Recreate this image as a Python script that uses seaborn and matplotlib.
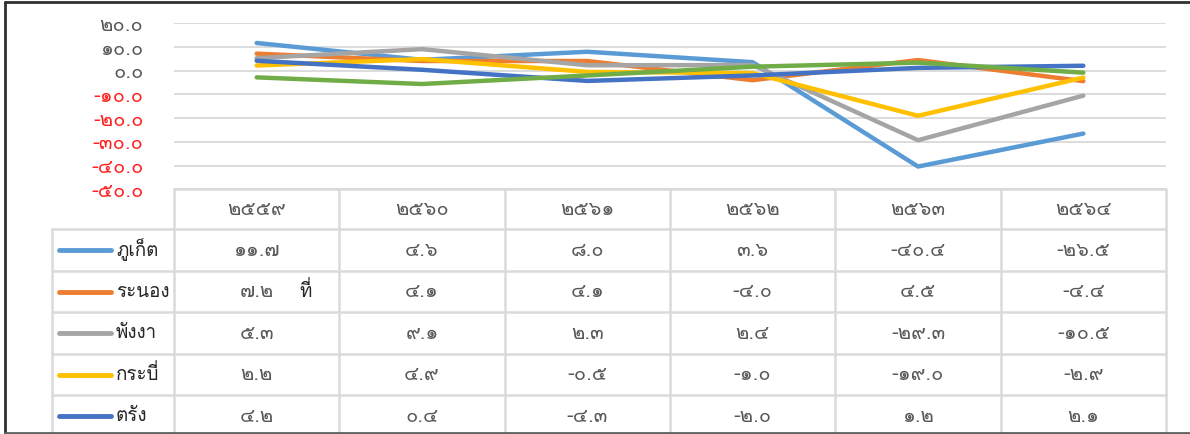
import numpy as np
import pandas as pd
import matplotlib
matplotlib.use('Agg')
import matplotlib.pyplot as plt
import seaborn as sns
from matplotlib import font_manager
from matplotlib.ft2font import FT2Font

# data (growth, %)
years = ['2559', '2560', '2561', '2562', '2563', '2564']
provinces = ['ภูเก็ต', 'ระนอง', 'พังงา', 'กระบี่', 'ตรัง', 'สตูล']
phuket = [11.7, 4.6, 8.0, 3.6, -40.4, -26.5]
ranong = [7.2, 4.1, 4.1, -4.0, 4.5, -4.4]
phangnga = [5.3, 9.1, 2.3, 2.4, -29.3, -10.5]
krabi = [2.2, 4.9, -0.5, -1.0, -19.0, -2.9]
trang = [4.2, 0.4, -4.3, -2.0, 1.2, 2.1]
satun = [-2.8, -5.6, -2.0, 1.7, 3.4, -0.8]  # its table row is cropped away, estimated from the line
colors = ['#5B9BD5', '#ED7D31', '#A5A5A5', '#FFC000', '#4472C4', '#70AD47']
yticks = [20, 10, 0, -10, -20, -30, -40, -50]
visible_rows = 5  # table rows that fit in the picture

series = [phuket, ranong, phangnga, krabi, trang, satun]

# find a font that can draw thai
def find_thai_font():
    for f in font_manager.fontManager.ttflist:
        try:
            if 0x0E20 in FT2Font(f.fname).get_charmap():
                return f.name
        except Exception:
            pass
    return None

sns.set_style('white')
thai = find_thai_font()
plt.rcParams['font.family'] = [thai, 'DejaVu Sans'] if thai else ['DejaVu Sans']

to_thai = str.maketrans('0123456789', '๐๑๒๓๔๕๖๗๘๙')
def th(v):
    return f'{v:.1f}'.translate(to_thai)

df = pd.DataFrame({
    'province': np.repeat(provinces, len(years)),
    'x': np.tile(np.arange(len(years)), len(provinces)),
    'value': np.concatenate(series),
})

W, H = 1190, 434
fig = plt.figure(figsize=(W / 100, H / 100), dpi=100)
txt = '#595959'

# the line chart
left, right, top, bot = 174, 1166, 23.3, 189.3
ax = fig.add_axes([left / W, 1 - bot / H, (right - left) / W, (bot - top) / H])
sns.lineplot(data=df, x='x', y='value', hue='province', hue_order=provinces,
             palette=colors, linewidth=3.2, legend=False, ax=ax)
for ln in ax.lines:
    ln.set_solid_capstyle('round')
ax.set_xlim(-0.5, len(years) - 0.5)
ax.set_ylim(-50, 20)
ax.set_yticks(yticks)
ax.set_yticklabels([th(t) for t in yticks], fontsize=14.5)
for lab, t in zip(ax.get_yticklabels(), yticks):
    lab.set_color('#FF2020' if t < 0 else txt)
ax.tick_params(axis='y', length=0, pad=22)
ax.set_xticks([])
ax.set_xlabel('')
ax.set_ylabel('')
ax.grid(axis='y', color='#D9D9D9', linewidth=1.3)
for s in ax.spines.values():
    s.set_visible(False)
ax.patch.set_alpha(0)

# data table underneath, in pixel coords
tab = fig.add_axes([0, 0, 1, 1], zorder=-1)
tab.set_xlim(0, W)
tab.set_ylim(H, 0)
tab.axis('off')
gc = '#DADADA'
col_w = (right - left) / len(years)
leg_left = 52
head_h = 40
row_h = 41.5
y0 = bot + head_h

# header row
tab.plot([left, right], [bot, bot], color=gc, lw=1.8)
for i in range(len(years) + 1):
    x = left + i * col_w
    tab.plot([x, x], [bot, H + 5], color=gc, lw=1.8)
for i, yr in enumerate(years):
    tab.text(left + (i + 0.5) * col_w, bot + head_h / 2, yr.translate(to_thai),
             ha='center', va='center', fontsize=14.5, color=txt)

# body rows
tab.plot([leg_left, leg_left], [y0, H + 5], color=gc, lw=1.8)
rows = list(zip(provinces, series, colors))[:visible_rows]
for r, (name, vals, c) in enumerate(rows):
    yt = y0 + r * row_h
    yc = yt + row_h / 2
    tab.plot([leg_left, right], [yt, yt], color=gc, lw=1.8)
    tab.plot([59, 111], [yc, yc], color=c, lw=3.5, solid_capstyle='round')
    tab.text(116, yc, name, ha='left', va='center', fontsize=13.5, color='#262626')
    for i, v in enumerate(vals):
        tab.text(left + (i + 0.5) * col_w, yc, th(v), ha='center', va='center',
                 fontsize=14.5, color=txt)

# stray text sitting in the ระนอง row
tab.text(306, y0 + 1.5 * row_h, 'ที่', ha='center', va='center', fontsize=13.5, color='#262626')

# frame around the picture
tab.plot([5, 5], [2, H], color='#303030', lw=2)
tab.plot([5, W], [2, 2], color='#303030', lw=2)
tab.plot([5, W], [H - 1, H - 1], color='#606060', lw=2)

fig.savefig('out.png', dpi=100)
